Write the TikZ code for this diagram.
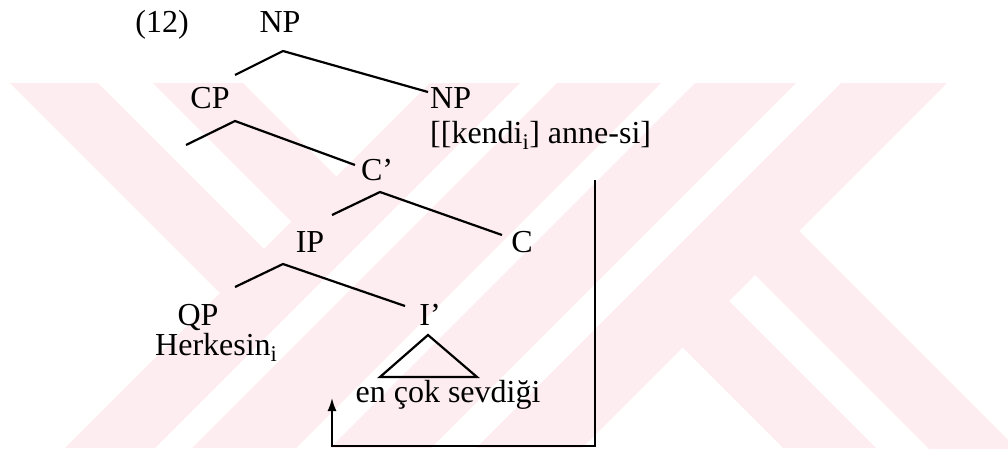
\documentclass[tikz,border=0pt]{standalone}
\usepackage{fontspec}
\setmainfont{Liberation Serif}
\usetikzlibrary{arrows.meta}
\definecolor{wmpink}{RGB}{253,237,240}

\begin{document}
\begin{tikzpicture}[x=1pt,y=-1pt,
  lbl/.style={inner sep=0pt,anchor=base,font=\fontsize{32}{38}\selectfont},
  br/.style={line width=2.2pt},
  mv/.style={line width=1.7pt}]
\useasboundingbox (0,0) rectangle (1008,448);
% pale stripes behind the tree
\begin{scope}
  \clip (0,83) rectangle (1008,448);
  \fill[wmpink] (430,83) -- (520,83) -- (155,448) -- (65,448) -- cycle;
  \fill[wmpink] (557,83) -- (661,83) -- (296,448) -- (192,448) -- cycle;
  \fill[wmpink] (695,83) -- (796,83) -- (431,448) -- (330,448) -- cycle;
  \fill[wmpink] (841,83) -- (947,83) -- (582,448) -- (476,448) -- cycle;
  \fill[wmpink] (10,83) -- (98,83) -- (267.5,252.5) -- (223.5,296.5) -- cycle;
  \fill[wmpink] (153,83) -- (243,83) -- (340,180) -- (295,225) -- cycle;
  \fill[wmpink] (679,344) -- (725.5,297.5) -- (876,448) -- (783,448) -- cycle;
  \fill[wmpink] (751.5,271.5) -- (795.5,227.5) -- (1068,500) -- (980,500) -- cycle;
\end{scope}

\node[lbl] (ex) at (162,32) {(12)};
\node[lbl] (np) at (280,32) {NP};
\node[lbl] (cp) at (210,108) {CP};
\node[lbl,anchor=base west] (npr) at (430,108) {NP};
\node[lbl,anchor=base west] (anne) at (430,143) {[[kendi\textsubscript{i}] anne-si]};
\node[lbl] (cbar) at (377,180) {C’};
\node[lbl] (ip) at (310,252) {IP};
\node[lbl] (c) at (522,252) {C};
\node[lbl] (qp) at (198,325) {QP};
\node[lbl,anchor=base west] (herk) at (155,355) {Herkesin\textsubscript{i}};
\node[lbl] (ibar) at (430,325) {I’};
\node[lbl] (sev) at (448,402) {en çok sevdiği};

% branch points
\coordinate (np-f) at (283,51);
\coordinate (np-l) at (235,75);
\coordinate (np-r) at (428,92);
\coordinate (cp-f) at (235,121);
\coordinate (cp-l) at (186,145);
\coordinate (cp-r) at (355,165);
\coordinate (cb-f) at (380,192);
\coordinate (cb-l) at (332,215);
\coordinate (cb-r) at (502,235);
\coordinate (ip-f) at (283,264);
\coordinate (ip-l) at (235,287);
\coordinate (ip-r) at (405,306);
\coordinate (tri-t) at (428,335);
\coordinate (tri-l) at (380,377);
\coordinate (tri-r) at (477,377);

\draw[br] (np-l) -- (np-f) -- (np-r);
\draw[br] (cp-l) -- (cp-f) -- (cp-r);
\draw[br] (cb-l) -- (cb-f) -- (cb-r);
\draw[br] (ip-l) -- (ip-f) -- (ip-r);
\draw[br,line join=miter] (tri-t) -- (tri-l) -- (tri-r) -- cycle;

% movement path
\coordinate (mv-top) at (595,180);
\coordinate (mv-br) at (595,446);
\coordinate (mv-bl) at (332,446);
\coordinate (mv-tip) at (332,398);
\draw[mv,-{Latex[length=13pt,width=9pt]}] (mv-top) -- (mv-br) -- (mv-bl) -- (mv-tip);
\end{tikzpicture}
\end{document}
